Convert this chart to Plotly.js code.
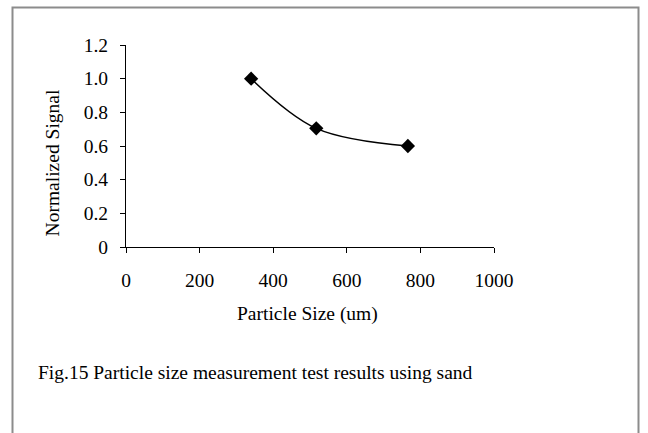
<!DOCTYPE html>
<html>
<head>
<meta charset="utf-8">
<script src="https://cdn.plot.ly/plotly-3.0.1.min.js"></script>
<style>
html,body{margin:0;padding:0;background:#fff;}
#chart{width:648px;height:433px;}
</style>
</head>
<body>
<div id="chart"></div>
<script>
// Data
const particleSize = [340, 517, 766];          // um
const normalizedSignal = [1.0, 0.705, 0.6];
const xTickValues = [0, 200, 400, 600, 800, 1000];
const xTickLabels = ['0', '200', '400', '600', '800', '1000'];
const yTickValues = [0, 0.2, 0.4, 0.6, 0.8, 1.0, 1.2];
const yTickLabels = ['0', '0.2', '0.4', '0.6', '0.8', '1.0', '1.2'];
const xTitle = 'Particle Size (um)';
const yTitle = 'Normalized Signal';
const caption = 'Fig.15 Particle size measurement test results using sand';

const FONT = '"Liberation Serif", "Times New Roman", serif';
const FS = 19.5;
const L = 126, R = 154, T = 44.5, B = 186.3;
const W = 648, H = 433;
const pw = W - L - R, ph = H - T - B;
const px = v => (v - L) / pw;          // pixel x -> paper x
const py = v => (H - B - v) / ph;      // pixel y -> paper y

const trace = {
  x: particleSize,
  y: normalizedSignal,
  type: 'scatter',
  mode: 'lines+markers',
  line: {color: '#000', width: 1.5, shape: 'spline', smoothing: 1},
  marker: {symbol: 'diamond', size: 11, color: '#000'},
  hoverinfo: 'skip'
};

const layout = {
  width: W, height: H,
  margin: {l: L, r: R, t: T, b: B, pad: 0},
  paper_bgcolor: '#fff', plot_bgcolor: '#fff',
  showlegend: false,
  font: {family: FONT, size: FS, color: '#000'},
  xaxis: {
    range: [0, 1000], tickmode: 'array', tickvals: xTickValues, ticktext: xTickLabels,
    showgrid: false, zeroline: false, showline: true, linecolor: '#000', linewidth: 1,
    ticks: 'outside', ticklen: 5, tickcolor: '#000', tickwidth: 1,
    ticklabelstandoff: 11, tickfont: {family: FONT, size: FS, color: '#000'},
    fixedrange: true
  },
  yaxis: {
    range: [0, 1.2], tickmode: 'array', tickvals: yTickValues, ticktext: yTickLabels,
    showgrid: false, zeroline: false, showline: true, linecolor: '#000', linewidth: 1,
    ticks: 'outside', ticklen: 5, tickcolor: '#000', tickwidth: 1,
    ticklabelstandoff: 8, tickfont: {family: FONT, size: FS, color: '#000'},
    fixedrange: true
  },
  annotations: [
    {text: xTitle, xref: 'paper', yref: 'paper', x: px(307), y: py(314),
     xanchor: 'center', yanchor: 'middle', showarrow: false,
     font: {family: FONT, size: FS, color: '#000'}},
    {text: yTitle, xref: 'paper', yref: 'paper', x: px(52), y: py(163),
     xanchor: 'center', yanchor: 'middle', textangle: -90, showarrow: false,
     font: {family: FONT, size: FS, color: '#000'}},
    {text: caption, xref: 'paper', yref: 'paper', x: px(36), y: py(372),
     xanchor: 'left', yanchor: 'middle', showarrow: false,
     font: {family: FONT, size: FS, color: '#000'}}
  ],
  shapes: [
    {type: 'rect', xref: 'paper', yref: 'paper', layer: 'below',
     x0: px(12.5), x1: px(638.5), y0: py(445), y1: py(7),
     line: {color: '#8c8c8c', width: 2}, fillcolor: 'rgba(0,0,0,0)'}
  ]
};

Plotly.newPlot('chart', [trace], layout, {staticPlot: true, displayModeBar: false});
</script>
</body>
</html>
